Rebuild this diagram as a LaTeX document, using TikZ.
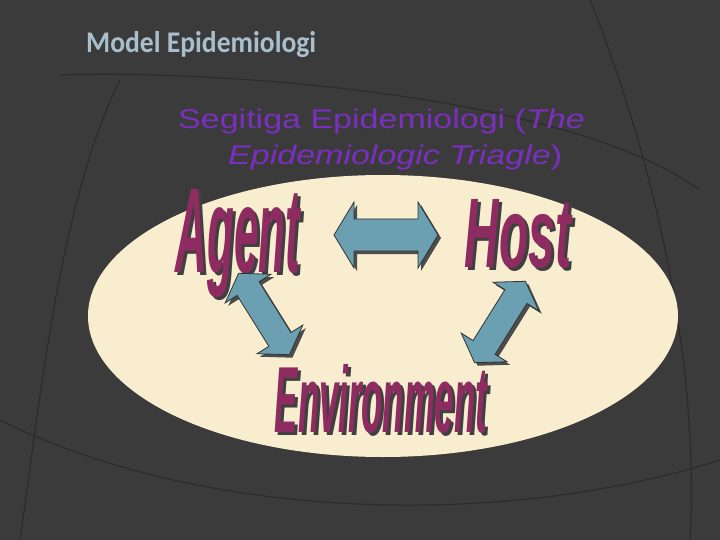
\documentclass[tikz,border=0pt]{standalone}
\usepackage{fontspec}
\setmainfont{Liberation Sans}
\newfontfamily\titlefont{Carlito}
\definecolor{bg}{HTML}{3B3B3B}
\definecolor{bgline}{HTML}{2C2C2C}
\definecolor{cream}{HTML}{F8EDCF}
\definecolor{maroon}{HTML}{8E2C62}
\definecolor{teal}{HTML}{6AA0B2}
\definecolor{purp}{HTML}{7B2FBE}
\definecolor{ttl}{HTML}{A9BFCE}
\tikzset{
  dblarrow/.style={draw=black!80, fill=teal, line width=0.8pt, line join=miter},
  ashadow/.style={fill=black!70},
  wordart/.style={inner sep=0pt, text=maroon},
  wshadow/.style={inner sep=0pt, text=black!75},
}
\newcommand{\wa}[3]{\resizebox{#1}{#2}{\bfseries\itshape #3}}
% #1 half length, #2 shaft half width, #3 head half width, #4 head length
\newcommand{\dblarr}[4]{(-#1,0) -- (-#1+#4,-#3) -- (-#1+#4,-#2) -- (#1-#4,-#2) -- (#1-#4,-#3) -- (#1,0) -- (#1-#4,#3) -- (#1-#4,#2) -- (-#1+#4,#2) -- (-#1+#4,#3) -- cycle}
\begin{document}
\begin{tikzpicture}[x=1pt,y=-1pt]
\useasboundingbox (0,0) rectangle (720,540);
\fill[bg] (0,0) rectangle (720,540);
\draw[bgline, line width=1.2pt] (590,0) .. controls (650,150) and (700,350) .. (690,540);
\draw[bgline, line width=1.2pt] (60,75) .. controls (200,70) and (560,90) .. (700,190);
\draw[bgline, line width=1.2pt] (20,540) .. controls (40,400) and (60,200) .. (120,80);
\draw[bgline, line width=1.2pt] (0,420) .. controls (200,520) and (500,530) .. (720,460);
\node[anchor=west, text=ttl, font=\titlefont\bfseries\fontsize{30}{34}\selectfont, inner sep=0pt] (title) at (86,45) {\scalebox{0.92}[1]{Model Epidemiologi}};
\node[anchor=west, text=purp, font=\fontsize{27}{30}\selectfont, inner sep=0pt] (sub1) at (178,122) {\scalebox{1.26}[1]{Segitiga Epidemiologi (\textit{The}}};
\node[anchor=west, text=purp, font=\fontsize{27}{30}\selectfont, inner sep=0pt] (sub2) at (228,158) {\scalebox{1.26}[1]{\textit{Epidemiologic Triagle})}};
\fill[cream] (383,316) ellipse [x radius=295, y radius=141];
\node[wshadow] at (241,246) {\wa{124pt}{83pt}{Agent}};
\node[wordart] (agent) at (238,243) {\wa{124pt}{83pt}{Agent}};
\node[wshadow] at (521,237) {\wa{106pt}{68pt}{Host}};
\node[wordart] (host) at (518,234) {\wa{106pt}{68pt}{Host}};
\node[wshadow] at (384,402) {\wa{212pt}{68pt}{Environment}};
\node[wordart] (env) at (381,399) {\wa{212pt}{68pt}{Environment}};
\begin{scope}[shift={(389,238)}] \fill[ashadow] \dblarr{52}{16}{33}{20}; \end{scope}
\begin{scope}[shift={(386,235)}] \draw[dblarrow] \dblarr{52}{16}{33}{20}; \end{scope}
\begin{scope}[shift={(267,317)},rotate=-58] \fill[ashadow] \dblarr{48}{13}{27}{18}; \end{scope}
\begin{scope}[shift={(264,314)},rotate=-58] \draw[dblarrow] \dblarr{48}{13}{27}{18}; \end{scope}
\begin{scope}[shift={(503,325)},rotate=58] \fill[ashadow] \dblarr{48}{13}{27}{18}; \end{scope}
\begin{scope}[shift={(500,322)},rotate=58] \draw[dblarrow] \dblarr{48}{13}{27}{18}; \end{scope}
\end{tikzpicture}
\end{document}
